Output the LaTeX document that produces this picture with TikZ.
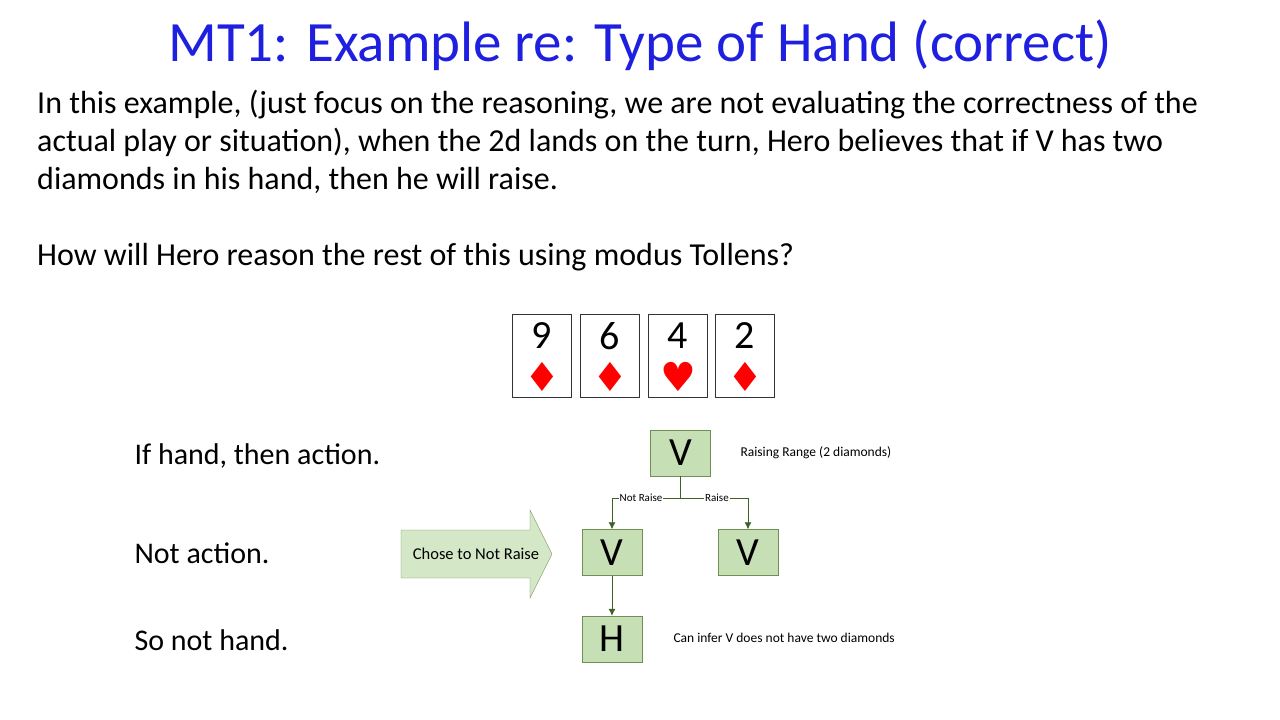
\documentclass[tikz,border=0pt]{standalone}
\usepackage{fontspec}
\setmainfont{Carlito}
\newfontfamily\dv{DejaVu Sans}
\definecolor{boxfill}{HTML}{C6DFB4}
\definecolor{boxline}{HTML}{6F8F55}
\definecolor{arr}{HTML}{3F6128}
\definecolor{titleblue}{HTML}{1F1FE0}
\usetikzlibrary{arrows.meta}
\tikzset{
 gbox/.style={draw=boxline,fill=boxfill,minimum width=60pt,minimum height=46pt,inner sep=0pt,font=\fontsize{40}{40}\selectfont},
 card/.style={draw=black!80,fill=white,minimum width=59pt,minimum height=83pt,inner sep=0pt},
 conn/.style={draw=arr,thick,-{Latex[length=7pt,width=7pt]}},
 small/.style={font=\fontsize{13.5}{15}\selectfont,anchor=west},
 lbl/.style={font=\fontsize{30}{32}\selectfont,anchor=west},
}
\begin{document}
\begin{tikzpicture}[x=1pt,y=-1pt]
\useasboundingbox (0,0) rectangle (1280,720);
\node[text=titleblue,font=\fontsize{57}{60}\selectfont] (title) at (640,45) {MT1: Example re: Type of Hand (correct)};
\node[anchor=north west,align=left,font=\fontsize{32}{38}\selectfont,inner sep=0pt] (body) at (37,90) {In this example, (just focus on the reasoning, we are not evaluating the correctness of the\\actual play or situation), when the 2d lands on the turn, Hero believes that if V has two\\diamonds in his hand, then he will raise.\\[38pt]How will Hero reason the rest of this using modus Tollens?};
\foreach \n/\x/\s in {a/542/9,b/610/6,c/678/4,d/745/2}{
 \node[card] (card\n) at (\x,355.5) {};
 \node[font=\fontsize{40}{40}\selectfont] (num\n) at (\x,336) {\s};
}
\foreach \n/\x in {a/542,b/610,d/745}{\node[text=red,font=\dv\fontsize{40}{40}\selectfont] (suit\n) at (\x,377) {♦};}
\node[text=red,font=\dv\fontsize{40}{40}\selectfont] (suitc) at (678,377) {♥};
\node[lbl] (l1) at (131,456) {If hand, then action.};
\node[lbl] (l2) at (131,553) {Not action.};
\node[lbl] (l3) at (131,640) {So not hand.};
\node[gbox] (top) at (680.5,453) {V};
\node[gbox] (mid) at (612,552.5) {V};
\node[gbox] (right) at (748,552.5) {V};
\node[gbox] (h) at (612,639) {H};
\coordinate (j) at (680.5,498);
\draw[conn] (top.south) -- (j) -| (mid.north);
\draw[conn] (j) -| (right.north);
\node[fill=white,inner sep=1pt,font=\fontsize{11}{11}\selectfont] (nr) at (641,498) {Not Raise};
\node[fill=white,inner sep=1pt,font=\fontsize{11}{11}\selectfont] (rs) at (717,498) {Raise};
\draw[conn] (mid.south) -- (h.north);
\node[small] (n1) at (737,453) {Raising Range (2 diamonds)};
\node[small] (n2) at (670,638) {Can infer V does not have two diamonds};
\draw[draw=boxline,fill=boxfill!75!white] (401,530) -- (530,530) -- (530,510) -- (552,554) -- (530,598) -- (530,578) -- (401,578) -- cycle;
\node[font=\fontsize{16.5}{16.5}\selectfont] (chose) at (476,554) {Chose to Not Raise};
\end{tikzpicture}
\end{document}
